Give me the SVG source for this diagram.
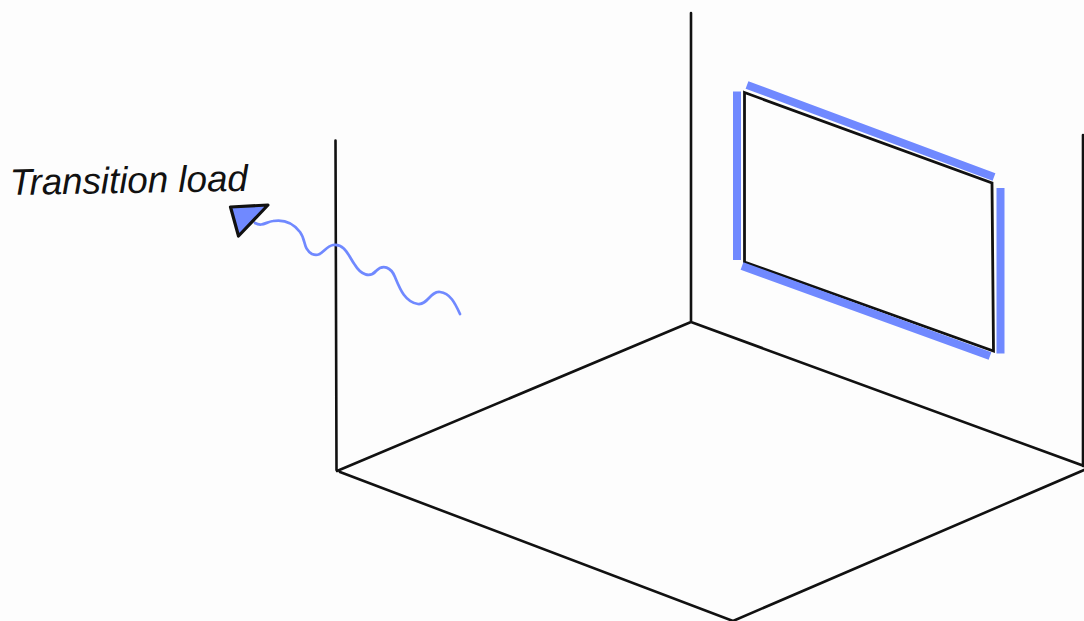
<svg xmlns="http://www.w3.org/2000/svg" width="1084" height="621" viewBox="0 0 1084 621">
<style>
.ink{fill:none;stroke:#111;stroke-width:2.6;stroke-linecap:round;stroke-linejoin:round}
.frame{fill:none;stroke:#111;stroke-width:2.8;stroke-linejoin:miter}
.band{fill:none;stroke:#7089ff;stroke-width:8}
.wave{fill:none;stroke:#7089ff;stroke-width:2.7;stroke-linecap:round}
.label{font-family:"Liberation Sans",Arial,sans-serif;font-style:italic;font-size:37px;fill:#111}
</style>
<rect id="background" width="1084" height="621" fill="#fdfdfd"/>
<g id="room">
<path class="ink" d="M335.500 140.500L336.500 470M691 13L691 322M1083 135L1083 466M337 471L691 322L1084 466M340 472L733 621L1084 470"/>
</g>
<g id="window">
<path class="frame" d="M744.500 92.500L992 183L993.500 351L744.500 262Z"/>
</g>
<g id="window-highlights">
<path class="band" d="M737 91.500L737 260M747 85L994 177M1000.500 188L1000.500 353.500M742 266L990 356"/>
</g>
<g id="transition-load-arrow">
<path class="wave" d="M255 223C262 227 266 222 273 221C285 219 294 224 300 232C306 240 303 249 312 254C322 258 324 247 333 245C345 243 349 257 355 265C361 275 370 278 376 271C383 264 391 267 395 277C400 289 405 302 418 304C428 305 430 291 440 292C450 293 455 303 460 314"/>
<path fill="#7089ff" stroke="#111" stroke-width="3.200" stroke-linejoin="round" d="M230.500 207L268 205L238.500 236Z"/>
</g>
<g id="transition-load-label">
<text class="label" x="10" y="195" textLength="238" lengthAdjust="spacingAndGlyphs" transform="rotate(-1 10 195)">Transition load</text>
</g>
</svg>
